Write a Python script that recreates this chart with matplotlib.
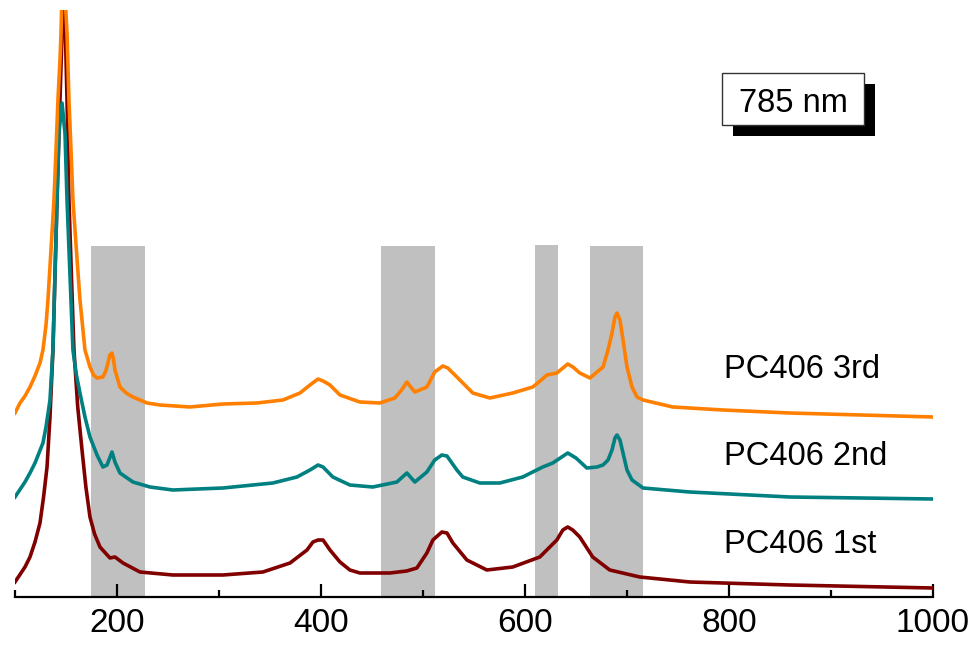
import matplotlib
matplotlib.use('Agg')
import matplotlib.pyplot as plt
from matplotlib.patches import Rectangle
from matplotlib.ticker import MultipleLocator

plt.rcParams['font.family'] = ['Liberation Sans', 'DejaVu Sans']

# Raman shift (cm-1) / intensity (a.u.) for the three PC406 measurements
shift_3rd = [100.0, 104.9, 109.8, 114.7, 119.6, 124.5, 127.4, 130.4, 132.3, 135.3,
             138.2, 140.2, 142.1, 144.1, 145.1, 147.0, 151.0, 152.9, 154.9, 156.8,
             160.2, 163.7, 168.6, 173.5, 177.0, 180.4, 186.2, 189.0, 191.1, 193.0,
             195.1, 196.5, 198.0, 202.9, 209.0, 215.6, 229.4, 242.1, 271.5, 303.8,
             337.2, 362.7, 379.4, 389.2, 397.1, 402.0, 408.8, 418.6, 438.1, 457.7,
             472.4, 479.0, 484.2, 488.0, 492.0, 503.8, 511.5, 519.4, 524.3, 533.2,
             548.8, 565.5, 588.0, 607.6, 616.0, 621.4, 631.2, 641.9, 647.0, 653.7,
             663.7, 670.6, 676.5, 681.4, 685.3, 688.2, 690.2, 693.1, 696.1, 700.0,
             704.9, 709.8, 715.7, 744.8, 793.8, 859.5, 1000.0]
int_3rd = [184, 194, 201, 210, 221, 234, 247, 272, 297, 347,
           397, 447, 497, 537, 564, 640, 564, 497, 447, 397,
           347, 297, 247, 230, 222, 219, 220, 226, 234, 242,
           244, 238, 227, 210, 204, 200, 194, 192, 190, 193,
           194, 197, 204, 212, 218, 216, 212, 202, 195, 194,
           199, 207, 215, 210, 205, 210, 225, 231, 229, 220,
           204, 199, 204, 210, 217, 222, 224, 233, 230, 224,
           219, 225, 230, 247, 264, 280, 284, 277, 257, 230,
           210, 200, 197, 190, 187, 184, 180]

shift_2nd = [100.0, 109.8, 114.7, 119.6, 127.4, 130.4, 134.3, 137.2, 139.2, 141.2,
             143.1, 146.1, 149.0, 151.0, 153.9, 156.8, 160.2, 163.7, 168.6, 173.5,
             180.4, 186.2, 190.2, 195.1, 198.0, 202.9, 215.6, 232.3, 254.8, 303.8,
             352.8, 376.4, 389.2, 397.1, 402.0, 411.6, 428.3, 450.8, 474.4, 484.2,
             492.0, 503.8, 511.5, 518.5, 523.5, 533.2, 539.0, 555.7, 575.3, 597.8,
             617.4, 627.2, 641.9, 650.0, 660.6, 670.6, 676.5, 681.4, 685.3, 688.2,
             690.2, 693.1, 696.1, 700.0, 704.9, 715.7, 761.5, 859.5, 1000.0]
int_2nd = [100, 115, 124, 134, 154, 170, 197, 247, 322, 397,
           464, 494, 464, 397, 322, 247, 222, 204, 180, 160,
           142, 130, 132, 145, 135, 124, 115, 110, 107, 109,
           114, 120, 127, 132, 130, 120, 112, 110, 115, 124,
           115, 125, 137, 142, 141, 127, 120, 114, 114, 120,
           130, 134, 144, 139, 129, 130, 132, 137, 147, 159,
           162, 157, 144, 127, 117, 109, 105, 100, 98]

shift_1st = [100.0, 109.8, 114.7, 119.6, 124.5, 128.0, 131.4, 134.3, 137.2, 139.2,
             141.2, 144.1, 146.0, 148.0, 149.5, 151.0, 152.9, 155.3, 157.8, 161.5,
             165.7, 169.5, 173.5, 178.0, 183.3, 193.1, 198.0, 205.9, 222.5, 254.8,
             303.8, 343.0, 369.6, 386.3, 392.1, 397.1, 402.0, 408.8, 418.6, 428.3,
             438.1, 467.5, 484.0, 494.0, 503.8, 509.7, 518.5, 523.5, 529.3, 543.0,
             562.6, 588.0, 614.5, 631.2, 637.1, 641.9, 646.8, 653.7, 666.4, 683.1,
             712.5, 761.5, 859.5, 1000.0]
int_1st = [15, 30, 40, 55, 74, 100, 130, 180, 247, 322,
           397, 497, 560, 620, 560, 497, 397, 322, 247, 190,
           147, 110, 80, 63, 50, 39, 40, 34, 25, 22,
           22, 25, 34, 47, 55, 57, 57, 47, 35, 27,
           24, 24, 26, 29, 44, 57, 65, 64, 54, 37,
           27, 30, 40, 57, 67, 70, 67, 60, 40, 27,
           20, 15, 12, 9]

series_labels = ['PC406 1st', 'PC406 2nd', 'PC406 3rd']
series_colors = ['#800000', '#008080', '#ff8000']
label_y = [44, 132, 219]

# shaded band regions (cm-1)
bands = [(174.5, 227.4), (458.8, 511.7), (609.8, 632.4), (663.5, 715.4)]
band_top = [351, 351, 352, 351]

fig = plt.figure(figsize=(9.71, 6.48), dpi=100)
ax = fig.add_axes([15 / 971, 51 / 648, 918 / 971, 587 / 648])

ymax = 587
for (x0, x1), top in zip(bands, band_top):
    ax.axvspan(x0, x1, ymin=0, ymax=top / ymax, color='#c0c0c0', lw=0, zorder=1)

for xs, ys, c in zip([shift_1st, shift_2nd, shift_3rd],
                     [int_1st, int_2nd, int_3rd], series_colors):
    ax.plot(xs, ys, color=c, lw=2.6, solid_joinstyle='round', zorder=3)

for lab, y in zip(series_labels, label_y):
    ax.text(795, y, lab, fontsize=23.5, va='baseline', ha='left', zorder=4)

ax.set_xlim(100, 1000)
ax.set_ylim(0, ymax)

for side in ['left', 'right', 'top']:
    ax.spines[side].set_visible(False)
ax.spines['bottom'].set_linewidth(1.6)
ax.set_yticks([])
ax.xaxis.set_major_locator(MultipleLocator(200))
ax.xaxis.set_minor_locator(MultipleLocator(100))
ax.tick_params(axis='x', which='major', direction='in', length=9.5, width=1.6, pad=8)
ax.tick_params(axis='x', which='minor', direction='in', length=5, width=1.6)
for t in ax.get_xticklabels():
    t.set_fontsize(24)

# laser wavelength box with drop shadow
def px_rect(x0, y0, x1, y1, **kw):
    return Rectangle((x0 / 971, 1 - y1 / 648), (x1 - x0) / 971, (y1 - y0) / 648,
                     transform=fig.transFigure, **kw)

fig.patches.append(px_rect(733, 84, 875, 136, facecolor='black', edgecolor='none', zorder=5))
fig.patches.append(px_rect(722, 73, 864, 125, facecolor='white', edgecolor='#333333', lw=1, zorder=6))
fig.text(793 / 971, 1 - 99.5 / 648, '785 nm', fontsize=23.5, ha='center', va='center_baseline', zorder=7)

plt.savefig('out.png', dpi=100)
plt.close(fig)
